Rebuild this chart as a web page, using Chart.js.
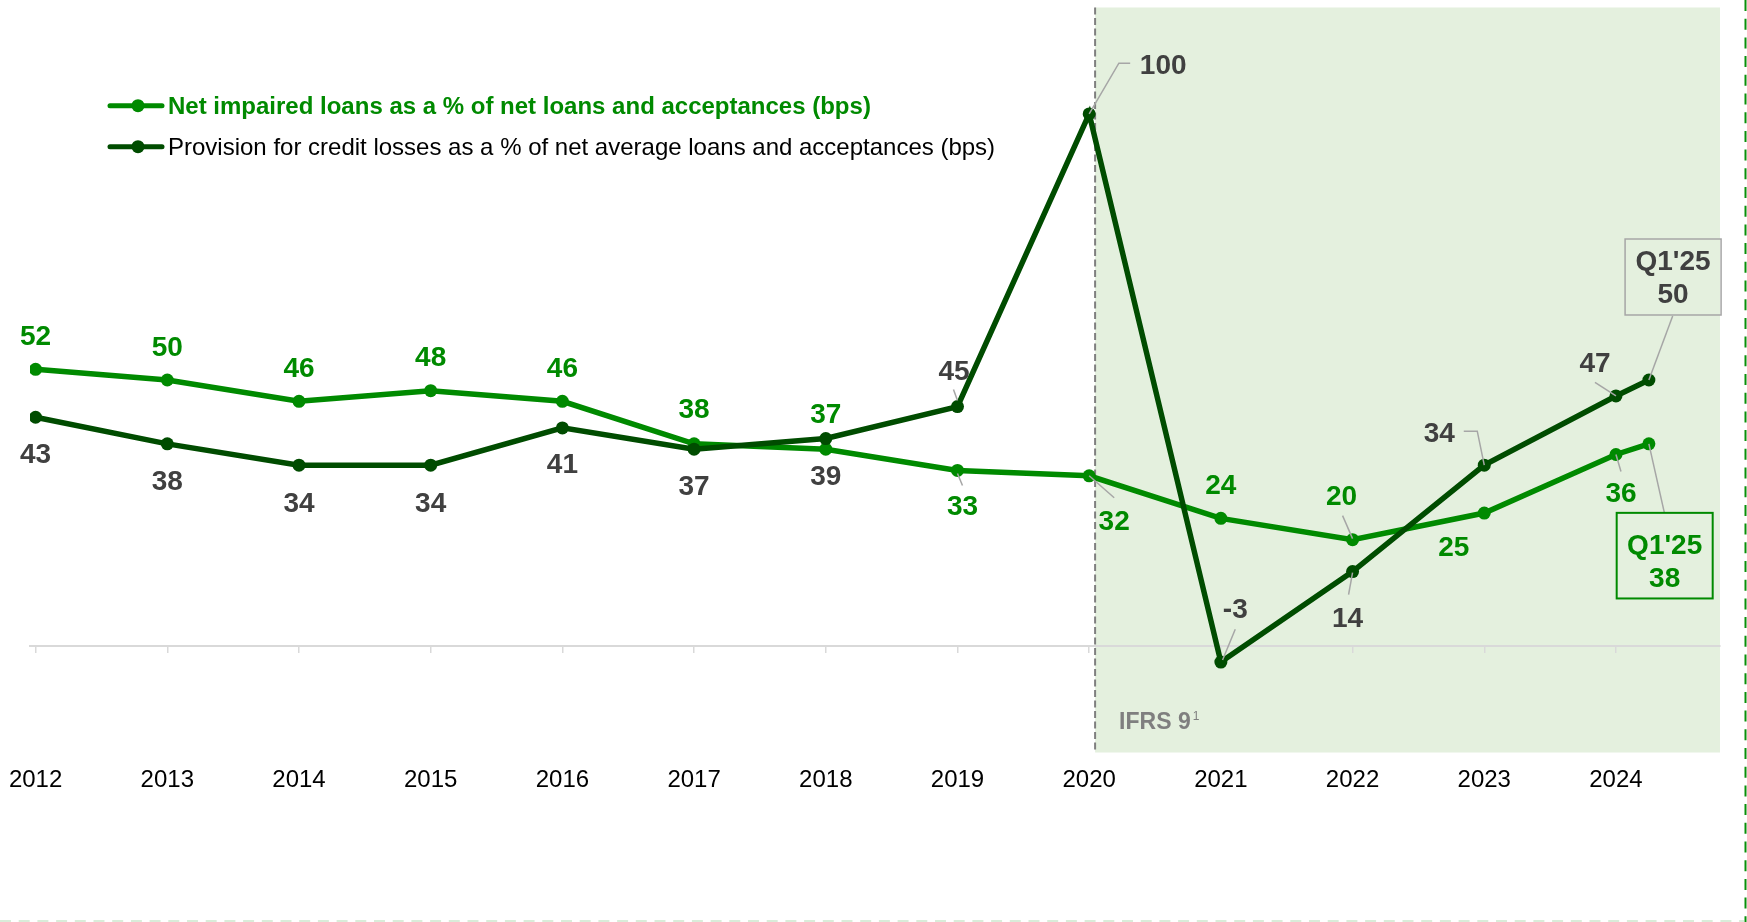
<!DOCTYPE html>
<html>
<head>
<meta charset="utf-8">
<script src="https://cdn.jsdelivr.net/npm/chart.js@4.4.1/dist/chart.umd.min.js"></script>
<style>
html,body{margin:0;padding:0;background:#ffffff;overflow:hidden;}
#wrap{position:relative;width:1747px;height:922px;}
canvas{display:block;}
</style>
</head>
<body>
<div id="wrap"><canvas id="c" width="1747" height="922"></canvas></div>
<script>
// ---------------- DATA ----------------
const years = ['2012','2013','2014','2015','2016','2017','2018','2019','2020','2021','2022','2023','2024'];
const periods = ['2012','2013','2014','2015','2016','2017','2018','2019','2020','2021','2022','2023','2024',"Q1'25"];
const periodPos = [0,1,2,3,4,5,6,7,8,9,10,11,12,12.25];
const netImpaired = [52,50,46,48,46,38,37,33,32,24,20,25,36,38];
const provision   = [43,38,34,34,41,37,39,45,100,-3,14,34,47,50];
const seriesNames = [
  'Net impaired loans as a % of net loans and acceptances (bps)',
  'Provision for credit losses as a % of net average loans and acceptances (bps)'
];
const ifrsStart = 8.045;           // x position where the IFRS 9 period begins
const ifrsLabel = 'IFRS 9';
const ifrsNote = '1';

// ---------------- STYLE ----------------
const GREEN = '#008a00';
const DARK = '#004c00';
const LABEL_GRAY = '#404040';
const LEADER = '#a6a6a6';
const SHADE = '#e4f0de';
const FONT = '"Liberation Sans", Arial, Helvetica, sans-serif';

// label placement (offsets from each point, in px): dx = text centre, dy = text baseline
const greenLabelLayout = [
  {dx:0, dy:-24.5}, {dx:0, dy:-24.5}, {dx:0, dy:-24.5}, {dx:0, dy:-24.5}, {dx:0, dy:-24.5},
  {dx:0, dy:-26}, {dx:0, dy:-26},
  {dx:5, dy:45, leader:[[0,3],[5,15]]},
  {dx:25, dy:54, leader:[[0,0],[25,22]]},
  {dx:0, dy:-24.5},
  {dx:-11, dy:-34.6, leader:[[0,-1],[-10,-24]]},
  {dx:-30.5, dy:43},
  {dx:5, dy:47, leader:[[0,0],[5,17]]},
  {box:{dx:15.8, top:69, w:96, h:85.6, color:GREEN, lw:2}, leader:[[0,0],[15.5,69]], lines:[109.7,143]}
];
const darkLabelLayout = [
  {dx:0, dy:46}, {dx:0, dy:46}, {dx:0, dy:46.5}, {dx:0, dy:46.5}, {dx:0, dy:45.5},
  {dx:0, dy:46}, {dx:0, dy:46.5},
  {dx:-3.5, dy:-26.6, leader:[[0,-6],[-4,-17]]},
  {dx:74, dy:-39.7, leader:[[0,0],[29.7,-50.7],[41,-50.7]]},
  {dx:14.4, dy:-43.7, leader:[[1.7,-2],[14.4,-32.7]]},
  {dx:-5, dy:55.2, leader:[[0,1],[-4,23]]},
  {dx:-45, dy:-23.4, leader:[[0,0],[-7,-34],[-20.5,-34]]},
  {dx:-21, dy:-24.3, leader:[[0,0],[-21,-13.7]]},
  {box:{dx:24.2, top:-141, w:96, h:76, color:LEADER, lw:1.5}, leader:[[0,0],[23.8,-64]], lines:[-110,-76.7]}
];

const toPoints = vals => vals.map((v,i)=>({x: periodPos[i], y: v}));

// ---------------- PLUGINS ----------------
const backgroundPlugin = {
  id: 'ifrsBackground',
  beforeDraw(chart) {
    const {ctx, chartArea:a, scales:{x}} = chart;
    const px = x.getPixelForValue(ifrsStart);
    ctx.save();
    ctx.fillStyle = SHADE;
    ctx.fillRect(px, a.top, a.right - px, a.bottom - a.top);
    ctx.strokeStyle = '#7f7f7f';
    ctx.lineWidth = 2;
    ctx.setLineDash([7, 3.5]);
    ctx.beginPath();
    ctx.moveTo(px, a.top);
    ctx.lineTo(px, a.bottom);
    ctx.stroke();
    ctx.setLineDash([]);
    // IFRS 9 label
    ctx.fillStyle = '#7f7f7f';
    ctx.font = 'bold 23px ' + FONT;
    ctx.textBaseline = 'alphabetic';
    ctx.textAlign = 'left';
    const tx = px + 24, ty = a.bottom - 24;
    ctx.fillText(ifrsLabel, tx, ty);
    const w = ctx.measureText(ifrsLabel).width;
    ctx.font = '12px ' + FONT;
    ctx.fillText(ifrsNote, tx + w + 2, ty - 8.5);
    ctx.restore();
  }
};

function drawLabels(chart, dsIndex, values, layout, color) {
  const {ctx} = chart;
  const meta = chart.getDatasetMeta(dsIndex);
  meta.data.forEach((pt, i) => {
    const L = layout[i];
    const px = pt.x, py = pt.y;
    if (L.leader) {
      ctx.save();
      ctx.strokeStyle = LEADER;
      ctx.lineWidth = 1.5;
      ctx.beginPath();
      L.leader.forEach((p, k) => {
        if (k === 0) ctx.moveTo(px + p[0], py + p[1]); else ctx.lineTo(px + p[0], py + p[1]);
      });
      ctx.stroke();
      ctx.restore();
    }
    ctx.save();
    ctx.fillStyle = color;
    ctx.font = 'bold 28px ' + FONT;
    ctx.textAlign = 'center';
    ctx.textBaseline = 'alphabetic';
    if (L.box) {
      const b = L.box;
      const cx = px + b.dx;
      ctx.strokeStyle = b.color;
      ctx.lineWidth = b.lw;
      ctx.strokeRect(cx - b.w / 2, py + b.top, b.w, b.h);
      ctx.fillText(periods[i], cx, py + L.lines[0]);
      ctx.fillText(String(values[i]), cx, py + L.lines[1]);
    } else {
      ctx.fillText(String(values[i]), px + L.dx, py + L.dy);
    }
    ctx.restore();
  });
}

const labelPlugin = {
  id: 'valueLabels',
  afterDatasetsDraw(chart) {
    drawLabels(chart, 0, netImpaired, greenLabelLayout, GREEN);
    drawLabels(chart, 1, provision, darkLabelLayout, LABEL_GRAY);
  }
};

const legendPlugin = {
  id: 'customLegend',
  afterDraw(chart) {
    const {ctx} = chart;
    const items = [
      {y:105.7, color:GREEN, text:seriesNames[0], font:'bold 24px ' + FONT, textColor:GREEN},
      {y:146.7, color:DARK, text:seriesNames[1], font:'24px ' + FONT, textColor:'#000000'}
    ];
    items.forEach(it => {
      ctx.save();
      ctx.strokeStyle = it.color;
      ctx.lineWidth = 5;
      ctx.lineCap = 'round';
      ctx.beginPath();
      ctx.moveTo(110, it.y);
      ctx.lineTo(162, it.y);
      ctx.stroke();
      ctx.fillStyle = it.color;
      ctx.beginPath();
      ctx.arc(138, it.y, 6.5, 0, Math.PI * 2);
      ctx.fill();
      ctx.fillStyle = it.textColor;
      ctx.font = it.font;
      ctx.textAlign = 'left';
      ctx.textBaseline = 'alphabetic';
      ctx.fillText(it.text, 168, it.y + 8);
      ctx.restore();
    });
    // slide frame remnants (dashed borders)
    ctx.save();
    ctx.strokeStyle = '#0a8f0a';
    ctx.lineWidth = 2;
    ctx.setLineDash([11, 7.7]);
    ctx.beginPath();
    ctx.moveTo(1745.5, 0);
    ctx.lineTo(1745.5, 922);
    ctx.stroke();
    ctx.strokeStyle = '#cde6cd';
    ctx.lineWidth = 1.5;
    ctx.beginPath();
    ctx.moveTo(0, 921);
    ctx.lineTo(1744, 921);
    ctx.stroke();
    ctx.restore();
  }
};

// ---------------- CHART ----------------
new Chart(document.getElementById('c'), {
  type: 'line',
  data: {
    datasets: [
      {
        label: seriesNames[0],
        data: toPoints(netImpaired),
        borderColor: GREEN,
        backgroundColor: GREEN,
        pointBackgroundColor: GREEN,
        pointBorderWidth: 0,
        pointRadius: 6.5,
        pointHoverRadius: 6.5,
        borderWidth: 5.5,
        tension: 0,
        order: 2
      },
      {
        label: seriesNames[1],
        data: toPoints(provision),
        borderColor: DARK,
        backgroundColor: DARK,
        pointBackgroundColor: DARK,
        pointBorderWidth: 0,
        pointRadius: 6.5,
        pointHoverRadius: 6.5,
        borderWidth: 5.5,
        tension: 0,
        order: 1
      }
    ]
  },
  options: {
    responsive: false,
    devicePixelRatio: 1,
    animation: false,
    events: [],
    layout: { padding: { left: 30, right: 27, top: 7.5, bottom: 169.5 } },
    plugins: { legend: { display: false }, tooltip: { enabled: false } },
    scales: {
      y: { type: 'linear', min: -20, max: 120, display: false },
      x: {
        type: 'linear',
        min: -0.0425,
        max: 12.79,
        position: { y: 0 },
        afterBuildTicks: scale => { scale.ticks = years.map((_, i) => ({ value: i })); },
        ticks: {
          callback: v => years[v],
          font: { family: FONT, size: 24, lineHeight: '256px' },
          color: '#000000',
          padding: 0,
          maxRotation: 0,
          autoSkip: false
        },
        grid: { display: true, drawOnChartArea: false, drawTicks: true, tickLength: 6, color: '#d9d9d9', lineWidth: 1.5 },
        border: { display: true, color: '#d9d9d9', width: 2 }
      }
    }
  },
  plugins: [backgroundPlugin, labelPlugin, legendPlugin]
});
</script>
</body>
</html>
